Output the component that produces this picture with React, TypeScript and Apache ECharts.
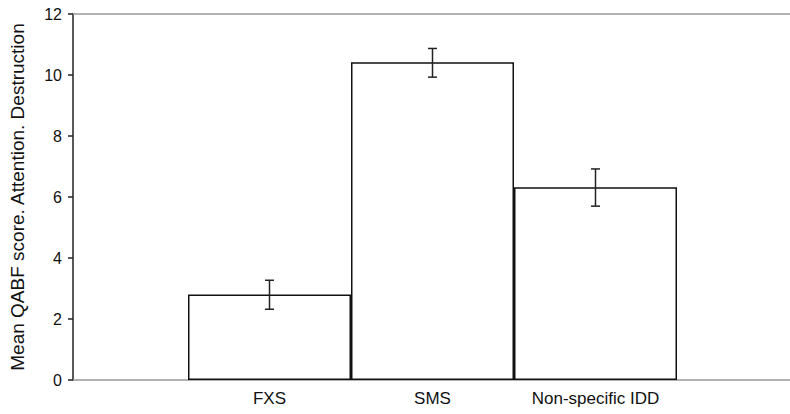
import React, { useEffect, useRef } from "react";
import * as echarts from "echarts";

const categories = ["FXS", "SMS", "Non-specific IDD"];
const meanValues = [2.8, 10.42, 6.32];
const errLow = [2.32, 9.93, 5.7];
const errHigh = [3.27, 10.87, 6.92];
const yTicks = { min: 0, max: 12, interval: 2 };
const yName = "Mean QABF score. Attention. Destruction";

export default function App() {
  const ref = useRef<HTMLDivElement>(null);
  useEffect(() => {
    if (!ref.current) return;
    const chart = echarts.init(ref.current, undefined, { renderer: "svg" });
    const font = "'Liberation Sans', Arial, sans-serif";
    chart.setOption({
      animation: false,
      backgroundColor: "#fff",
      textStyle: { fontFamily: font },
      grid: [
        { left: 66, right: 0, top: 14, bottom: 34 },
        { left: 188, right: 113, top: 14, bottom: 34 },
      ],
      xAxis: [
        {
          type: "value", gridIndex: 0, min: 0, max: 1, position: "bottom",
          axisLine: { show: true, lineStyle: { color: "#999", width: 1.5 } },
          axisTick: { show: false }, axisLabel: { show: false }, splitLine: { show: false },
        },
        {
          type: "value", gridIndex: 0, min: 0, max: 1, position: "top",
          axisLine: { show: true, lineStyle: { color: "#999", width: 1.5 } },
          axisTick: { show: false }, axisLabel: { show: false }, splitLine: { show: false },
        },
        {
          type: "category", gridIndex: 1, data: categories,
          axisLine: { show: false }, axisTick: { show: false },
          axisLabel: { color: "#111", fontSize: 17, margin: 10, interval: 0, fontFamily: font },
        },
      ],
      yAxis: [
        {
          type: "value", gridIndex: 0, min: yTicks.min, max: yTicks.max, interval: yTicks.interval,
          axisLine: { show: true, lineStyle: { color: "#222", width: 1.5 } },
          axisTick: { show: true, length: 5, lineStyle: { color: "#222", width: 1.5 } },
          axisLabel: { color: "#111", fontSize: 16, margin: 11, fontFamily: font },
          splitLine: { show: false },
          name: yName, nameLocation: "middle", nameGap: 46,
          nameTextStyle: { color: "#111", fontSize: 19, fontFamily: font },
        },
        {
          type: "value", gridIndex: 1, min: yTicks.min, max: yTicks.max, interval: yTicks.interval,
          show: false,
        },
      ],
      series: [
        {
          type: "bar", xAxisIndex: 2, yAxisIndex: 1, data: meanValues, barWidth: "100%",
          itemStyle: { color: "#fff", borderColor: "#111", borderWidth: 1.5 },
        },
        {
          type: "custom", xAxisIndex: 2, yAxisIndex: 1, z: 5,
          data: categories.map((_, i) => [i, errLow[i], errHigh[i]]),
          renderItem: (params: any, api: any) => {
            const i = api.value(0);
            const lo = api.coord([i, api.value(1)]);
            const hi = api.coord([i, api.value(2)]);
            const hw = 4.5;
            const style = { stroke: "#222", lineWidth: 1.5 };
            return {
              type: "group",
              children: [
                { type: "line", shape: { x1: lo[0], y1: lo[1], x2: hi[0], y2: hi[1] }, style },
                { type: "line", shape: { x1: hi[0] - hw, y1: hi[1], x2: hi[0] + hw, y2: hi[1] }, style },
                { type: "line", shape: { x1: lo[0] - hw, y1: lo[1], x2: lo[0] + hw, y2: lo[1] }, style },
              ],
            };
          },
        },
      ],
    });
    return () => chart.dispose();
  }, []);
  return <div ref={ref} style={{ width: 790, height: 414 }} />;
}

const style = document.createElement("style");
style.textContent = "body{margin:0}";
document.head.appendChild(style);
